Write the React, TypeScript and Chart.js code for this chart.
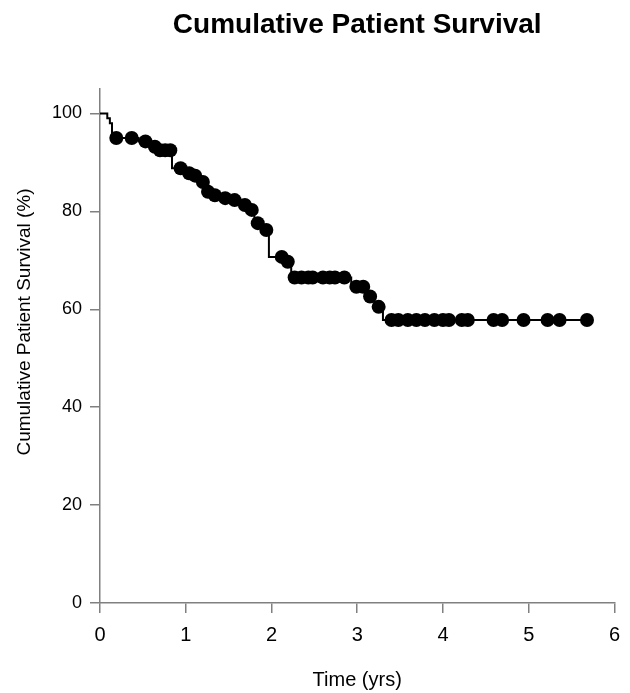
import React, { useEffect, useRef } from "react";
import { Chart, registerables } from "chart.js";

Chart.register(...registerables);

const chartTitle = "Cumulative Patient Survival";
const xAxisTitle = "Time (yrs)";
const yAxisTitle = "Cumulative Patient Survival (%)";

// Kaplan-Meier step curve: time (yrs) and survival (%) after each step
const stepTimes = [0, 0.085, 0.115, 0.14, 0.45, 0.6, 0.67, 0.84, 1.0, 1.08, 1.16, 1.23, 1.3, 1.4, 1.52, 1.64, 1.73, 1.8, 1.9, 1.97, 2.17, 2.23, 2.93, 3.11, 3.2, 3.3, 5.68];
const stepValues = [100, 99, 98, 95, 94.3, 93.2, 92.5, 88.8, 87.8, 87.3, 86, 84, 83.3, 82.7, 82.3, 81.3, 80.3, 77.6, 76.2, 70.7, 69.7, 66.5, 64.6, 62.6, 60.5, 57.8, 57.8];

// Censored observations (markers)
const censorTimes = [0.19, 0.37, 0.53, 0.64, 0.7, 0.76, 0.82, 0.94, 1.04, 1.11, 1.2, 1.26, 1.34, 1.46, 1.57, 1.69, 1.77, 1.84, 1.94, 2.12, 2.19, 2.27, 2.35, 2.43, 2.48, 2.6, 2.68, 2.74, 2.85, 2.99, 3.07, 3.15, 3.25, 3.4, 3.48, 3.59, 3.69, 3.79, 3.9, 4.0, 4.07, 4.22, 4.29, 4.59, 4.69, 4.94, 5.22, 5.36, 5.68];
const censorValues = [95, 95, 94.3, 93.2, 92.5, 92.5, 92.5, 88.8, 87.8, 87.3, 86, 84, 83.3, 82.7, 82.3, 81.3, 80.3, 77.6, 76.2, 70.7, 69.7, 66.5, 66.5, 66.5, 66.5, 66.5, 66.5, 66.5, 66.5, 64.6, 64.6, 62.6, 60.5, 57.8, 57.8, 57.8, 57.8, 57.8, 57.8, 57.8, 57.8, 57.8, 57.8, 57.8, 57.8, 57.8, 57.8, 57.8, 57.8];

const xTicks = [0, 1, 2, 3, 4, 5, 6];
const yTicks = [0, 20, 40, 60, 80, 100];

const FONT = "'Liberation Sans', Arial, sans-serif";

const titlesPlugin = {
  id: "customTitles",
  afterDraw(chart: any) {
    const ctx = chart.ctx;
    const area = chart.chartArea;
    ctx.save();
    ctx.fillStyle = "#000";
    ctx.textAlign = "center";
    ctx.textBaseline = "alphabetic";
    ctx.font = `bold 28px ${FONT}`;
    ctx.fillText(chartTitle, (area.left + area.right) / 2, 33);
    ctx.font = `20px ${FONT}`;
    ctx.fillText(xAxisTitle, (area.left + area.right) / 2, 686);
    ctx.translate(30, 322);
    ctx.rotate(-Math.PI / 2);
    ctx.font = `19px ${FONT}`;
    ctx.fillText(yAxisTitle, 0, 0);
    ctx.restore();
  },
};

export default function App() {
  const ref = useRef<HTMLCanvasElement>(null);
  useEffect(() => {
    if (!ref.current) return;
    const stepData = stepTimes.map((t, i) => ({ x: t, y: stepValues[i] }));
    const censorData = censorTimes.map((t, i) => ({ x: t, y: censorValues[i] }));
    const chart = new Chart(ref.current, {
      type: "scatter",
      data: {
        datasets: [
          {
            type: "line",
            data: stepData,
            stepped: "before",
            borderColor: "#000",
            borderWidth: 2,
            pointRadius: 0,
            fill: false,
            showLine: true,
          } as any,
          {
            type: "scatter",
            data: censorData,
            backgroundColor: "#000",
            borderColor: "#000",
            pointRadius: 7,
            pointBorderWidth: 0,
            showLine: false,
          } as any,
        ],
      },
      options: {
        responsive: false,
        animation: false,
        layout: { padding: { left: 0, right: 15, top: 89, bottom: 0 } },
        plugins: {
          legend: { display: false },
          tooltip: { enabled: false },
          title: { display: false },
        },
        scales: {
          x: {
            type: "linear",
            min: 0,
            max: 6,
            afterBuildTicks: (scale: any) => {
              scale.ticks = xTicks.map((v) => ({ value: v }));
            },
            afterFit: (scale: any) => {
              scale.height = 90;
            },
            ticks: {
              color: "#000",
              font: { family: FONT, size: 20 },
              padding: 10,
              maxRotation: 0,
            },
            grid: {
              display: true,
              drawOnChartArea: false,
              drawTicks: true,
              tickLength: 10,
              color: "#808080",
              lineWidth: 1.5,
            },
            border: { display: true, color: "#808080", width: 1.5 },
          },
          y: {
            type: "linear",
            min: 0,
            max: 105,
            afterBuildTicks: (scale: any) => {
              scale.ticks = yTicks.map((v) => ({ value: v }));
            },
            afterFit: (scale: any) => {
              scale.width = 100;
            },
            ticks: {
              color: "#000",
              font: { family: FONT, size: 18 },
              padding: 8,
            },
            grid: {
              display: true,
              drawOnChartArea: false,
              drawTicks: true,
              tickLength: 10,
              color: "#808080",
              lineWidth: 1.5,
            },
            border: { display: true, color: "#808080", width: 1.5 },
          },
        },
      },
      plugins: [titlesPlugin],
    });
    return () => chart.destroy();
  }, []);
  return (
    <div style={{ position: "fixed", left: 0, top: 0, width: 630, height: 693, background: "#fff" }}>
      <canvas ref={ref} width={630} height={693} style={{ width: 630, height: 693, display: "block" }} />
    </div>
  );
}
